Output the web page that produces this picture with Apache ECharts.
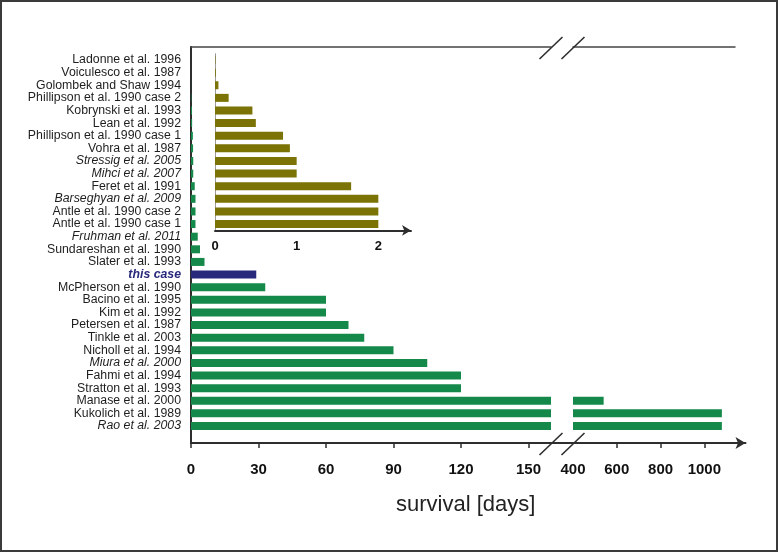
<!DOCTYPE html>
<html>
<head>
<meta charset="utf-8">
<script src="https://cdn.jsdelivr.net/npm/echarts@6/dist/echarts.min.js"></script>
<style>
html,body{margin:0;padding:0;background:#fff;}
#chart{width:778px;height:552px;}
</style>
</head>
<body>
<div id="chart"></div>
<script>
// ---- data ----
const categories = [
  'Ladonne et al. 1996','Voiculesco et al. 1987','Golombek and Shaw 1994',
  'Phillipson et al. 1990 case 2','Kobrynski et al. 1993','Lean et al. 1992',
  'Phillipson et al. 1990 case 1','Vohra et al. 1987','Stressig et al. 2005',
  'Mihci et al. 2007','Feret et al. 1991','Barseghyan et al. 2009',
  'Antle et al. 1990 case 2','Antle et al. 1990 case 1','Fruhman et al. 2011',
  'Sundareshan et al. 1990','Slater et al. 1993','this case',
  'McPherson et al. 1990','Bacino et al. 1995','Kim et al. 1992',
  'Petersen et al. 1987','Tinkle et al. 2003','Nicholl et al. 1994',
  'Miura et al. 2000','Fahmi et al. 1994','Stratton et al. 1993',
  'Manase et al. 2000','Kukolich et al. 1989','Rao et al. 2003'
];
const survivalDays = [
  0.005, 0.01, 0.042, 0.167, 0.458, 0.5, 0.833, 0.917, 1, 1, 1.667, 2, 2, 2,
  3, 4, 6, 29, 33, 60, 60, 70, 77, 90, 105, 120, 120, 540, 1080, 1080
];
const insetCount = 14;
const italicLabels = ['Stressig et al. 2005','Mihci et al. 2007','Barseghyan et al. 2009',
  'Fruhman et al. 2011','Miura et al. 2000','Rao et al. 2003'];
const highlightLabel = 'this case';
const leftTicks = [0, 30, 60, 90, 120, 150];
const rightTickValues = [600, 800, 1000];
const rightLabelValues = [400, 600, 800, 1000];
const insetTicks = [0, 1, 2];
const axisTitle = 'survival [days]';

// ---- styles ----
const GREEN = '#14894a', OLIVE = '#7b7305', NAVY = '#29297c', AXIS = '#2e2e2e';
const FONT = '"Liberation Sans", Arial, sans-serif';
const rowH = 12.62;
const gridTop = 53.7;
const gridH = rowH * categories.length;

const insetCategories = categories.slice(0, insetCount);
const insetDays = survivalDays.slice(0, insetCount);

const barData = survivalDays.map((v, i) => categories[i] === highlightLabel
  ? { value: v, itemStyle: { color: NAVY } } : v);
const rightData = survivalDays.map(v => v >= 400 ? v : '-');

const hiddenAxis = { axisLine:{show:false}, axisTick:{show:false}, axisLabel:{show:false}, splitLine:{show:false} };
const plainNum = v => String(v);

const chart = echarts.init(document.getElementById('chart'), null, { renderer: 'canvas' });
const option = {
  animation: false,
  backgroundColor: '#fff',
  title: {
    text: axisTitle, left: 391, top: 489,
    textStyle: { fontFamily: FONT, fontSize: 22, fontWeight: 'normal', color: '#222' }
  },
  grid: [
    { left: 191, top: gridTop, width: 360, height: gridH },          // 0 left segment
    { left: 573, top: gridTop, width: 162, height: gridH },          // 1 right segment
    { left: 191, top: 47, width: 554.5, height: 396 },               // 2 frame
    { left: 215, top: gridTop, width: 196, height: rowH * insetCount } // 3 inset
  ],
  xAxis: [
    { gridIndex: 0, type: 'value', min: 0, max: 160, position: 'bottom', offset: 443 - (gridTop + gridH),
      axisLine: { show: false }, splitLine: { show: false },
      axisTick: { show: true, customValues: leftTicks, length: 5, lineStyle: { color: AXIS, width: 1.5 } },
      axisLabel: { customValues: leftTicks, formatter: plainNum, margin: 19, fontFamily: FONT, fontSize: 15, fontWeight: 'bold', color: '#111' } },
    { gridIndex: 0, type: 'value', min: 0, max: 160, position: 'top', offset: gridTop - 47,
      axisLine: { show: true, lineStyle: { color: '#444', width: 1.5 } },
      axisTick: { show: false }, axisLabel: { show: false }, splitLine: { show: false } },
    { gridIndex: 1, type: 'value', min: 400, max: 1140, position: 'bottom', offset: 443 - (gridTop + gridH),
      axisLine: { show: false }, splitLine: { show: false },
      axisTick: { show: true, customValues: rightTickValues, length: 5, lineStyle: { color: AXIS, width: 1.5 } },
      axisLabel: { customValues: rightLabelValues, formatter: plainNum, margin: 19, fontFamily: FONT, fontSize: 15, fontWeight: 'bold', color: '#111' } },
    { gridIndex: 1, type: 'value', min: 400, max: 1140, position: 'top', offset: gridTop - 47,
      axisLine: { show: true, lineStyle: { color: '#444', width: 1.5 } },
      axisTick: { show: false }, axisLabel: { show: false }, splitLine: { show: false } },
    { gridIndex: 2, type: 'value', min: 0, max: 1, position: 'bottom',
      axisLine: { show: true, symbol: ['none', 'arrow'], symbolSize: [9, 10], lineStyle: { color: AXIS, width: 2 } },
      axisTick: { show: false }, axisLabel: { show: false }, splitLine: { show: false } },
    { gridIndex: 3, type: 'value', min: 0, max: 2.4, position: 'bottom',
      axisLine: { show: true, symbol: ['none', 'arrow'], symbolSize: [8, 9], lineStyle: { color: AXIS, width: 2 } },
      axisTick: { show: false }, splitLine: { show: false },
      axisLabel: { customValues: insetTicks, formatter: plainNum, margin: 10, fontFamily: FONT, fontSize: 13, fontWeight: 'bold', color: '#111' } }
  ],
  yAxis: [
    { gridIndex: 0, type: 'category', inverse: true, data: categories,
      axisLine: { show: false }, axisTick: { show: false }, splitLine: { show: false },
      axisLabel: {
        margin: 10, fontFamily: FONT, fontSize: 12.3, color: '#1e1e1e', interval: 0,
        formatter: v => v === highlightLabel ? '{hl|' + v + '}' : (italicLabels.indexOf(v) >= 0 ? '{it|' + v + '}' : v),
        rich: {
          it: { fontStyle: 'italic', fontFamily: FONT, fontSize: 12.3, color: '#1e1e1e' },
          hl: { fontStyle: 'italic', fontWeight: 'bold', fontFamily: FONT, fontSize: 12.3, color: NAVY }
        }
      } },
    Object.assign({ gridIndex: 1, type: 'category', inverse: true, data: categories }, hiddenAxis),
    { gridIndex: 2, type: 'value', min: 0, max: 1,
      axisLine: { show: true, lineStyle: { color: AXIS, width: 2 } },
      axisTick: { show: false }, axisLabel: { show: false }, splitLine: { show: false } },
    { gridIndex: 3, type: 'category', inverse: true, data: insetCategories,
      axisLine: { show: true, lineStyle: { color: '#9a9a9a', width: 1 } },
      axisTick: { show: false }, axisLabel: { show: false }, splitLine: { show: false } }
  ],
  series: [
    { type: 'bar', xAxisIndex: 0, yAxisIndex: 0, data: barData, barWidth: 8, clip: true,
      itemStyle: { color: GREEN } },
    { type: 'bar', xAxisIndex: 2, yAxisIndex: 1, data: rightData, barWidth: 8, clip: true,
      itemStyle: { color: GREEN } },
    { type: 'bar', xAxisIndex: 5, yAxisIndex: 3, data: insetDays, barWidth: 8, clip: true,
      itemStyle: { color: OLIVE } }
  ]
};
chart.setOption(option);

// break marks and outer frame
const xBreakL = chart.convertToPixel({ xAxisIndex: 0 }, 160);
const xBreakR = chart.convertToPixel({ xAxisIndex: 2 }, 400);
const yBottom = chart.convertToPixel({ yAxisIndex: 2 }, 0);
const yTop = chart.convertToPixel({ yAxisIndex: 2 }, 1);
function slash(cx, cy) {
  return { type: 'line', shape: { x1: cx - 11.5, y1: cy + 11, x2: cx + 11.5, y2: cy - 11 },
    style: { stroke: AXIS, lineWidth: 1.6 }, z: 100 };
}
chart.setOption({
  graphic: [
    slash(xBreakL, yBottom + 1), slash(xBreakR, yBottom + 1),
    slash(xBreakL, yTop + 1), slash(xBreakR, yTop + 1),
    { type: 'rect', shape: { x: 1, y: 1, width: 776, height: 550 },
      style: { fill: 'none', stroke: '#3a3a3a', lineWidth: 2 }, z: 100 }
  ]
});
</script>
</body>
</html>
